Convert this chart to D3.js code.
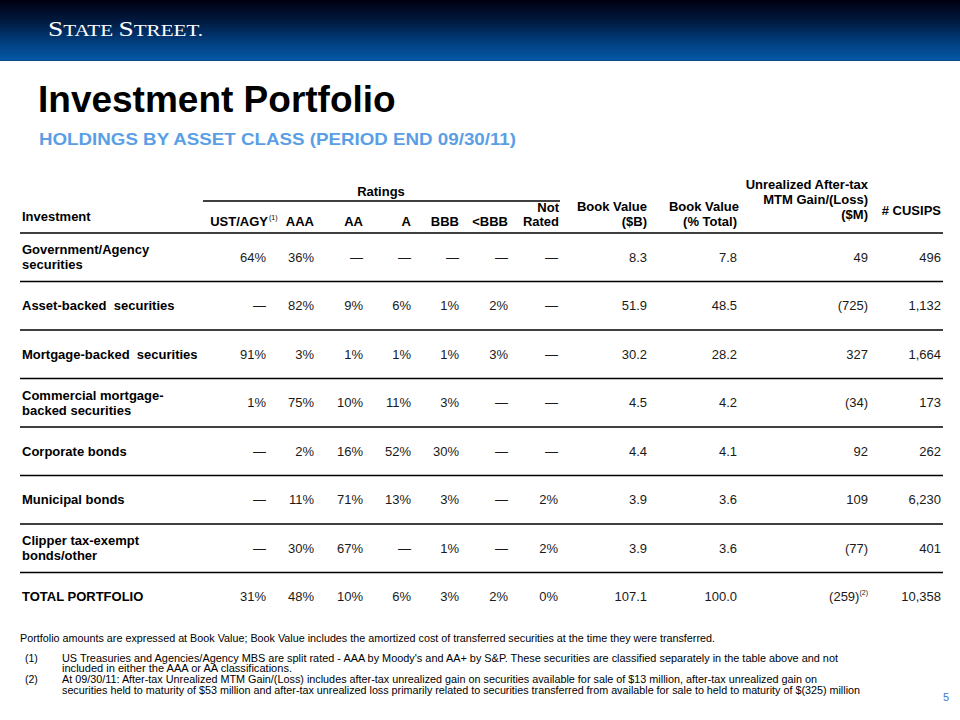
<!DOCTYPE html>
<html>
<head>
<meta charset="utf-8">
<script src="https://cdn.jsdelivr.net/npm/d3@7"></script>
<style>
  html, body { margin: 0; padding: 0; background: #fff; }
  svg { display: block; }
  text { font-family: Arial, "Liberation Sans", sans-serif; }
</style>
</head>
<body>
<div id="chart"></div>
<script>
// ---------- DATA ----------
const investments = [
  ["Government/Agency", "securities"],
  ["Asset-backed  securities"],
  ["Mortgage-backed  securities"],
  ["Commercial mortgage-", "backed securities"],
  ["Corporate bonds"],
  ["Municipal bonds"],
  ["Clipper tax-exempt", "bonds/other"],
  ["TOTAL PORTFOLIO"]
];
const ustAgy    = [64, null, 91, 1, null, null, null, 31];
const ratingAAA = [36, 82, 3, 75, 2, 11, 30, 48];
const ratingAA  = [null, 9, 1, 10, 16, 71, 67, 10];
const ratingA   = [null, 6, 1, 11, 52, 13, null, 6];
const ratingBBB = [null, 1, 1, 3, 30, 3, 1, 3];
const ratingBelowBBB = [null, 2, 3, null, null, null, null, 2];
const notRated  = [null, null, null, null, null, 2, 2, 0];
const bookValueB   = [8.3, 51.9, 30.2, 4.5, 4.4, 3.9, 3.9, 107.1];
const bookValuePct = [7.8, 48.5, 28.2, 4.2, 4.1, 3.6, 3.6, 100.0];
const mtmGainLoss  = [49, -725, 327, -34, 92, 109, -77, -259];
const cusips       = [496, 1132, 1664, 173, 262, 6230, 401, 10358];

const ratingHeaders = ["UST/AGY", "AAA", "AA", "A", "BBB", "<BBB"];

const footnoteIntro = "Portfolio amounts are expressed at Book Value; Book Value includes the amortized cost of transferred securities at the time they were transferred.";
const footnote1 = ["US Treasuries and Agencies/Agency MBS are split rated - AAA by Moody's and AA+ by S&P. These securities are classified separately in the table above and not",
                   "included in either the AAA or AA classifications."];
const footnote2 = ["At 09/30/11:  After-tax Unrealized MTM Gain/(Loss) includes after-tax unrealized gain on securities available for sale of $13 million, after-tax unrealized gain on",
                   "securities held to maturity of $53 million and after-tax unrealized loss primarily related to securities transferred from available for sale to held to maturity of $(325) million"];

// ---------- SETUP ----------
const W = 960, H = 720;
const svg = d3.select("#chart").append("svg").attr("width", W).attr("height", H);

// header bar gradient
const defs = svg.append("defs");
const grad = defs.append("linearGradient").attr("id", "hdr").attr("x1", 0).attr("y1", 0).attr("x2", 0).attr("y2", 1);
[[0, "#000010"], [0.35, "#011a40"], [0.7, "#023f80"], [1, "#0559a8"]].forEach(s =>
  grad.append("stop").attr("offset", s[0]).attr("stop-color", s[1]));
svg.append("rect").attr("x", 0).attr("y", 0).attr("width", W).attr("height", 61).attr("fill", "url(#hdr)");
svg.append("rect").attr("x", 0).attr("y", 60).attr("width", W).attr("height", 1).attr("fill", "#0a4a8c");

// logo
const logo = svg.append("text").attr("x", 48).attr("y", 36)
  .attr("fill", "#fff").style("font-family", "'Liberation Serif', 'Times New Roman', serif")
  .attr("textLength", 155).attr("lengthAdjust", "spacingAndGlyphs");
[["S", 21.5], ["TATE ", 16.5], ["S", 21.5], ["TREET", 16.5], [".", 16.5]].forEach(p =>
  logo.append("tspan").attr("font-size", p[1]).text(p[0]));

// title and subtitle
svg.append("text").attr("x", 38).attr("y", 112).attr("font-size", 37).attr("font-weight", "bold")
  .attr("fill", "#000").text("Investment Portfolio");
svg.append("text").attr("x", 39).attr("y", 145).attr("font-size", 17).attr("font-weight", "bold")
  .attr("fill", "#5a9fe6").attr("textLength", 477).attr("lengthAdjust", "spacingAndGlyphs")
  .text("HOLDINGS BY ASSET CLASS (PERIOD END 09/30/11)");

// ---------- SCALES ----------
const colKeys = ["ust", "aaa", "aa", "a", "bbb", "below", "nr", "bvB", "bvPct", "mtm", "cusips"];
const colX = d3.scaleOrdinal().domain(colKeys)
  .range([266, 314, 363, 411, 459, 508, 558, 647, 737, 868, 941]);

const headerBottom = 233, rowStep = 48.5;
const rowY = d3.scaleBand().domain(d3.range(investments.length))
  .range([headerBottom, headerBottom + rowStep * investments.length]).padding(0);

const tableLeft = 20, tableRight = 943;
const fs = 13;

// ---------- HEADER ----------
const hdr = svg.append("g").attr("font-size", fs).attr("font-weight", "bold").attr("fill", "#000");
hdr.append("text").attr("x", 381).attr("y", 196).attr("text-anchor", "middle").text("Ratings");
svg.append("line").attr("x1", 203).attr("x2", 560).attr("y1", 201).attr("y2", 201)
  .attr("stroke", "#000").attr("stroke-width", 1.5);

hdr.append("text").attr("x", 22).attr("y", 221).text("Investment");

// UST/AGY with superscript
hdr.append("text").attr("x", 268).attr("y", 226).attr("text-anchor", "end").text("UST/AGY");
hdr.append("text").attr("x", 269).attr("y", 220).attr("font-size", 7).attr("font-weight", "normal").text("(1)");
ratingHeaders.slice(1).forEach((h, i) => {
  hdr.append("text").attr("x", colX(colKeys[i + 1])).attr("y", 226).attr("text-anchor", "end").text(h);
});
hdr.append("text").attr("x", colX("nr") + 1).attr("y", 212).attr("text-anchor", "end").text("Not");
hdr.append("text").attr("x", colX("nr") + 1).attr("y", 226).attr("text-anchor", "end").text("Rated");
hdr.append("text").attr("x", colX("bvB")).attr("y", 211).attr("text-anchor", "end").text("Book Value");
hdr.append("text").attr("x", colX("bvB")).attr("y", 226).attr("text-anchor", "end").text("($B)");
hdr.append("text").attr("x", colX("bvPct") + 2).attr("y", 211).attr("text-anchor", "end").text("Book Value");
hdr.append("text").attr("x", colX("bvPct")).attr("y", 226).attr("text-anchor", "end").text("(% Total)");
hdr.append("text").attr("x", colX("mtm")).attr("y", 189).attr("text-anchor", "end").text("Unrealized After-tax");
hdr.append("text").attr("x", colX("mtm")).attr("y", 204).attr("text-anchor", "end").text("MTM Gain/(Loss)");
hdr.append("text").attr("x", colX("mtm")).attr("y", 219).attr("text-anchor", "end").text("($M)");
hdr.append("text").attr("x", colX("cusips")).attr("y", 215).attr("text-anchor", "end").text("# CUSIPS");

// header bottom line
svg.append("line").attr("x1", tableLeft).attr("x2", tableRight).attr("y1", headerBottom).attr("y2", headerBottom)
  .attr("stroke", "#000").attr("stroke-width", 1.5);

// ---------- ROWS ----------
const pct = v => v == null ? "\u2014" : v + "%";
const f1 = d3.format(".1f");
const fc = d3.format(",");
const mtmFmt = v => v < 0 ? "(" + Math.abs(v) + ")" : String(v);

const columns = [
  ["ust", ustAgy, pct], ["aaa", ratingAAA, pct], ["aa", ratingAA, pct], ["a", ratingA, pct],
  ["bbb", ratingBBB, pct], ["below", ratingBelowBBB, pct], ["nr", notRated, pct],
  ["bvB", bookValueB, f1], ["bvPct", bookValuePct, f1], ["mtm", mtmGainLoss, mtmFmt], ["cusips", cusips, fc]
];

const rows = svg.append("g").selectAll("g.row").data(investments).join("g").attr("class", "row")
  .attr("transform", (d, i) => `translate(0,${rowY(i) + rowY.bandwidth() / 2})`);

// labels
rows.each(function(lines, i) {
  const g = d3.select(this);
  const n = lines.length;
  lines.forEach((ln, j) => {
    g.append("text").attr("x", 22).attr("y", 4.6 + (j - (n - 1) / 2) * 15)
      .attr("font-size", fs).attr("font-weight", "bold").attr("fill", "#000")
      .style("white-space", "pre").text(ln);
  });
});

// values
columns.forEach(([key, arr, fmt]) => {
  rows.append("text").attr("x", colX(key)).attr("y", 4.6).attr("text-anchor", "end")
    .attr("font-size", fs).attr("fill", "#1a1a1a")
    .each(function(d, i) {
      const t = d3.select(this);
      if (key === "mtm" && i === investments.length - 1) {
        t.append("tspan").text(fmt(arr[i]));
        t.append("tspan").attr("font-size", 7).attr("dy", -6).text("(2)");
      } else {
        t.text(fmt(arr[i]));
      }
    });
});

// row separators (all but after last)
svg.append("g").selectAll("line").data(d3.range(investments.length - 1)).join("line")
  .attr("x1", tableLeft).attr("x2", tableRight)
  .attr("y1", i => rowY(i) + rowY.bandwidth()).attr("y2", i => rowY(i) + rowY.bandwidth())
  .attr("stroke", "#000").attr("stroke-width", 1.5);

// ---------- FOOTNOTES ----------
const fn = svg.append("g").attr("font-size", 10.5).attr("fill", "#000");
fn.append("text").attr("x", 20).attr("y", 641.5).attr("textLength", 695).attr("lengthAdjust", "spacingAndGlyphs").text(footnoteIntro);
fn.append("text").attr("x", 25).attr("y", 661.5).text("(1)");
fn.append("text").attr("x", 62).attr("y", 661.5).attr("textLength", 776).attr("lengthAdjust", "spacingAndGlyphs").text(footnote1[0]);
fn.append("text").attr("x", 62).attr("y", 672).attr("textLength", 230).attr("lengthAdjust", "spacingAndGlyphs").text(footnote1[1]);
fn.append("text").attr("x", 25).attr("y", 683).text("(2)");
fn.append("text").attr("x", 62).attr("y", 683).attr("textLength", 755).attr("lengthAdjust", "spacingAndGlyphs").text(footnote2[0]);
fn.append("text").attr("x", 62).attr("y", 694).attr("textLength", 798).attr("lengthAdjust", "spacingAndGlyphs").text(footnote2[1]);

// page number
svg.append("text").attr("x", 946).attr("y", 701).attr("text-anchor", "middle")
  .attr("font-size", 11).attr("fill", "#3a7bc8").text("5");
</script>
</body>
</html>
